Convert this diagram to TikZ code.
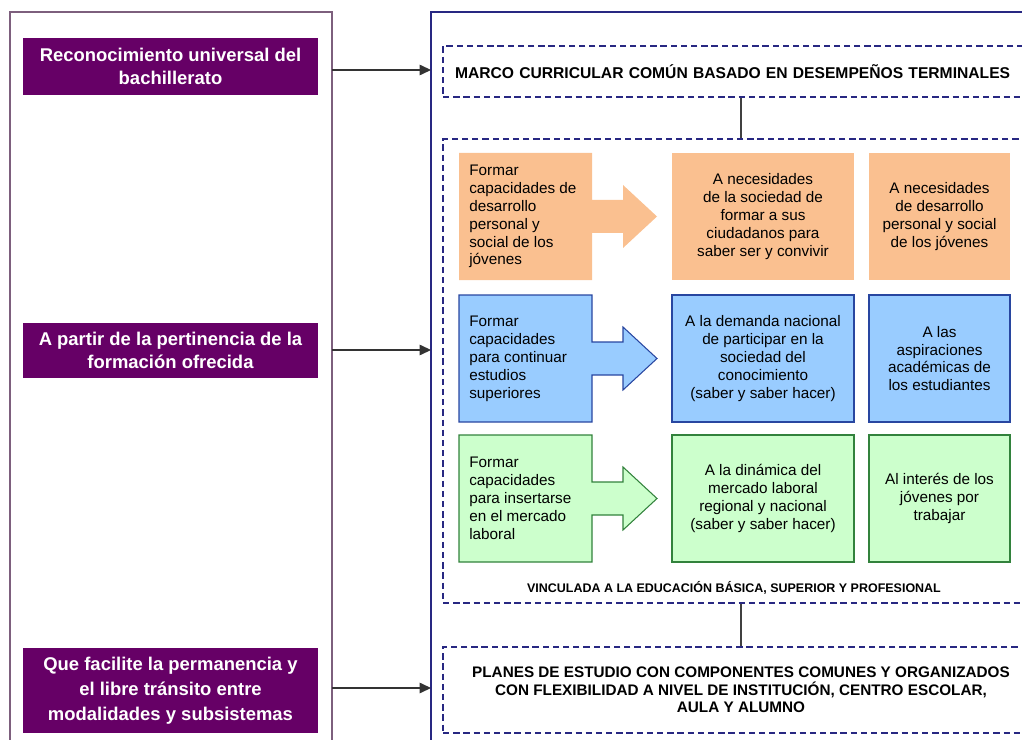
\documentclass[tikz,border=0pt]{standalone}
\usepackage{fontspec}
\setmainfont{Liberation Sans}
\usetikzlibrary{arrows.meta}

\definecolor{morado}{RGB}{102,0,102}
\definecolor{marcoizq}{RGB}{125,95,125}
\definecolor{marino}{RGB}{40,40,130}
\definecolor{naranja}{RGB}{250,192,144}
\definecolor{celeste}{RGB}{153,204,255}
\definecolor{azulborde}{RGB}{40,70,160}
\definecolor{verdeclaro}{RGB}{204,255,204}
\definecolor{verdeborde}{RGB}{50,130,60}

\tikzset{
  criterio/.style={fill=morado, text=white, align=center, inner sep=0pt,
    minimum width=5.9cm, font=\fontsize{10.5}{13}\selectfont\bfseries},
  punteada/.style={draw=marino, dash pattern=on 3.6pt off 2.2pt, line width=0.75pt,
    minimum width=11.92cm, inner sep=0pt},
  caja/.style={align=center, inner sep=0pt, minimum height=2.54cm,
    font=\fontsize{8.7}{10.2}\selectfont},
  textoizq/.style={align=left, inner sep=0pt, anchor=west,
    font=\fontsize{8.7}{10.2}\selectfont},
  flecha/.style={draw=black!80, line width=0.7pt, -{Triangle[length=6.5pt,width=6pt]}},
  enlace/.style={draw=black!75, line width=0.6pt}
}

\begin{document}
\begin{tikzpicture}[x=0.02cm, y=-0.02cm]
	\useasboundingbox (0,0) rectangle (1022,740);
	\clip (0,0) rectangle (1022,740);
	% marcos
	\draw[marcoizq, line width=0.6pt] (10,760) -- (10,12) -- (332,12) -- (332,760);
	\draw[marino, line width=0.6pt] (431,760) -- (431,12) -- (1045,12);
	
	% criterios
	\node[criterio, minimum height=1.14cm] (c1) at (170.5,66.5) {Reconocimiento universal del\\bachillerato};
	\node[criterio, minimum height=1.1cm] (c2) at (170.5,350.5) {A partir de la pertinencia de la\\formación ofrecida};
	\node[criterio, minimum height=1.7cm, font=\fontsize{10.5}{14.2}\selectfont\bfseries] (c3) at (170.5,690.5) {Que facilite la permanencia y\\el libre tránsito entre\\modalidades y subsistemas};
	
	\coordinate (s1) at (332,70);
	\coordinate (e1) at (431,70);
	\coordinate (s2) at (332,350);
	\coordinate (e2) at (431,350);
	\coordinate (s3) at (332,688);
	\coordinate (e3) at (431,688);
	\draw[flecha] (s1)--(e1);
	\draw[flecha] (s2)--(e2);
	\draw[flecha] (s3)--(e3);
	
	% cajas punteadas
	\node[punteada, minimum height=1.02cm, text width=11.44cm, inner xsep=0.24cm, align=left,
		font=\fontsize{8.9}{10}\selectfont\bfseries] (marco) at (741,71.5)
		{MARCO CURRICULAR COMÚN BASADO EN DESEMPEÑOS TERMINALES};
	\node[punteada, minimum height=9.28cm] (medio) at (741,371) {};
	\node[font=\fontsize{7.1}{8}\selectfont\bfseries] (vincula) at (734,588)
		{VINCULADA A LA EDUCACIÓN BÁSICA, SUPERIOR Y PROFESIONAL};
	\node[punteada, minimum height=1.72cm, align=center,
		font=\fontsize{8.7}{9.9}\selectfont\bfseries] (planes) at (741,690)
		{PLANES DE ESTUDIO CON COMPONENTES COMUNES Y ORGANIZADOS\\CON FLEXIBILIDAD A NIVEL DE INSTITUCIÓN, CENTRO ESCOLAR,\\AULA Y ALUMNO};
	\draw[enlace] (marco.south)--(medio.north);
	\draw[enlace] (medio.south)--(planes.north);
	
	% fila naranja
	\begin{scope}[shift={(0,153)}]
		\fill[naranja] (459,0) -- (592,0) -- (592,47) -- (623,47) -- (623,32) -- (657,63.5)
			-- (623,95) -- (623,80) -- (592,80) -- (592,127) -- (459,127) -- cycle;
		\node[textoizq] (na1) at (469,63.5) {Formar\\capacidades de\\desarrollo\\personal y\\social de los\\jóvenes};
		\node[caja, fill=naranja, minimum width=3.64cm] (na2) at (763,63.5) {A necesidades\\de la sociedad de\\formar a sus\\ciudadanos para\\saber ser y convivir};
		\node[caja, fill=naranja, minimum width=2.82cm] (na3) at (939.5,63.5) {A necesidades\\de desarrollo\\personal y social\\de los jóvenes};
	\end{scope}
	
	% fila azul
	\begin{scope}[shift={(0,295)}]
		\filldraw[fill=celeste, draw=azulborde, line width=0.6pt] (459,0) -- (592,0) -- (592,47) -- (623,47) -- (623,32) -- (657,63.5)
			-- (623,95) -- (623,80) -- (592,80) -- (592,127) -- (459,127) -- cycle;
		\node[textoizq] (az1) at (469,63.5) {Formar\\capacidades\\para continuar\\estudios\\superiores};
		\node[caja, fill=celeste, draw=azulborde, line width=0.6pt, minimum width=3.64cm] (az2) at (763,63.5) {A la demanda nacional\\de participar en la\\sociedad del\\conocimiento\\(saber y saber hacer)};
		\node[caja, fill=celeste, draw=azulborde, line width=0.6pt, minimum width=2.82cm] (az3) at (939.5,63.5) {A las\\aspiraciones\\académicas de\\los estudiantes};
	\end{scope}
	
	% fila verde
	\begin{scope}[shift={(0,435)}]
		\filldraw[fill=verdeclaro, draw=verdeborde, line width=0.6pt] (459,0) -- (592,0) -- (592,47) -- (623,47) -- (623,32) -- (657,63.5)
			-- (623,95) -- (623,80) -- (592,80) -- (592,127) -- (459,127) -- cycle;
		\node[textoizq] (ve1) at (469,63.5) {Formar\\capacidades\\para insertarse\\en el mercado\\laboral};
		\node[caja, fill=verdeclaro, draw=verdeborde, line width=0.6pt, minimum width=3.64cm] (ve2) at (763,63.5) {A la dinámica del\\mercado laboral\\regional y nacional\\(saber y saber hacer)};
		\node[caja, fill=verdeclaro, draw=verdeborde, line width=0.6pt, minimum width=2.82cm] (ve3) at (939.5,63.5) {Al interés de los\\jóvenes por\\trabajar};
	\end{scope}
\end{tikzpicture}
\end{document}
